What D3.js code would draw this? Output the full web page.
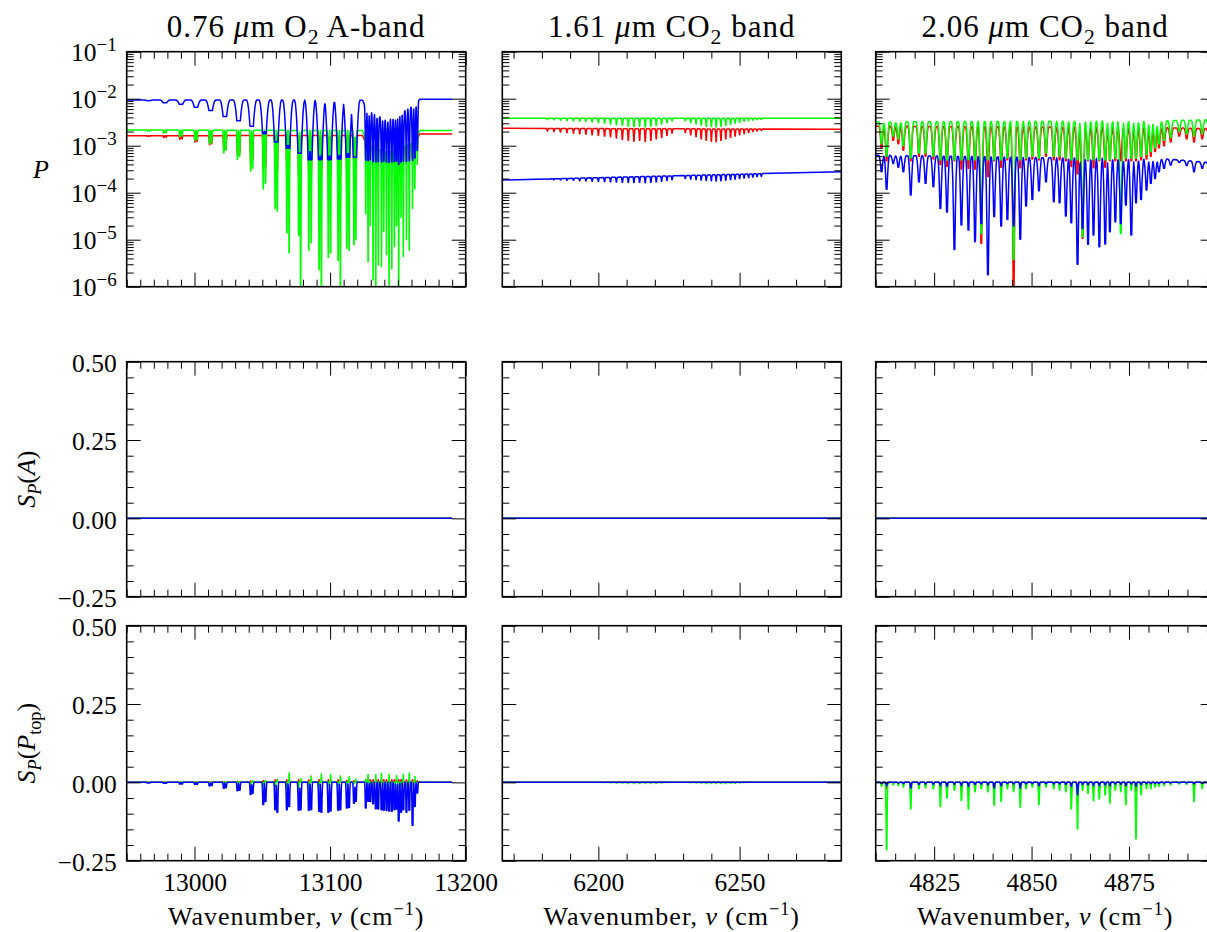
<!DOCTYPE html>
<html>
<head>
<meta charset="utf-8">
<script src="https://cdn.jsdelivr.net/npm/d3@7"></script>
<style>
  html, body { margin: 0; padding: 0; background: #fff; }
  svg { display: block; }
  svg text { font-family: "Liberation Serif", "DejaVu Serif", serif; fill: #000; }
</style>
</head>
<body>
<svg id="chart" width="1207" height="932" font-family="Liberation Serif, DejaVu Serif, serif"></svg>
<script>
// ---------------- axes ----------------
const xDomains = [[12950, 13200], [6166, 6286], [4810, 4897]];
const xMajorTicks = [[13000, 13100, 13200], [6200, 6250], [4825, 4850, 4875]];
const xMinorSteps = [10, 10, 5];
const pTicks = [1e-1, 1e-2, 1e-3, 1e-4, 1e-5, 1e-6];
const pTickExps = ["−1", "−2", "−3", "−4", "−5", "−6"];
const sTicks = [0.5, 0.25, 0, -0.25];
const sMinorStep = 0.05;

// spectral coverage of each band
const coverage = [[12950, 13190], [6166, 6286], [4810, 4897]];

// ---------------- 0.76 um O2 A-band ----------------
// P-branch doublets
const aBandPNu = [12965.3, 12966.9, 12977.4, 12979.0, 12989.2, 12990.8, 13000.3, 13001.9, 13011.1, 13012.7,
  13021.6, 13023.2, 13031.7, 13033.3, 13041.4, 13042.9, 13050.7, 13052.4, 13059.5, 13061.1,
  13068.1, 13069.8, 13076.8, 13078.3, 13084.3, 13086.1, 13091.9, 13093.6, 13098.7, 13100.4,
  13105.9, 13107.6, 13112.3, 13114.0, 13117.6, 13119.0];
const aBandPRed = [1.58e-3, 1.58e-3, 1.5e-3, 1.52e-3, 1.38e-3, 1.4e-3, 1.2e-3, 1.25e-3, 1.05e-3, 1.1e-3,
  8e-4, 8.5e-4, 6.5e-4, 7e-4, 4.5e-4, 5e-4, 3.2e-4, 3.6e-4, 2.6e-4, 2.8e-4,
  2.5e-4, 2.6e-4, 2.5e-4, 2.4e-4, 2.6e-4, 2.5e-4, 2.5e-4, 2.4e-4, 2.6e-4, 2.5e-4,
  2.5e-4, 2.4e-4, 2.7e-4, 2.7e-4, 3e-4, 3.2e-4];
const aBandPGreen = [2.05e-3, 2.05e-3, 1.85e-3, 1.9e-3, 1.55e-3, 1.6e-3, 1.3e-3, 1.35e-3, 1.1e-3, 1.15e-3,
  7.1e-4, 8e-4, 5.1e-4, 6e-4, 2.9e-4, 3.3e-4, 1.2e-4, 1.6e-4, 4.6e-5, 4.1e-5,
  1.4e-5, 5.3e-6, 1.25e-5, 8e-7, 6e-6, 8.6e-6, 2.3e-6, 8e-7, 4.2e-6, 5.2e-6,
  3.6e-6, 8e-7, 6.6e-6, 6e-6, 7.8e-6, 1e-5];
const aBandPBlue = [9.1e-3, 9.1e-3, 8.2e-3, 8.2e-3, 7.6e-3, 7.6e-3, 6.6e-3, 6.6e-3, 5.6e-3, 5.6e-3,
  4.2e-3, 4.2e-3, 3.4e-3, 3.4e-3, 2.6e-3, 2.6e-3, 1.8e-3, 1.8e-3, 1.2e-3, 1.2e-3,
  8.8e-4, 8.8e-4, 6.9e-4, 6.9e-4, 5.0e-4, 5.0e-4, 5.0e-4, 5.0e-4, 5.0e-4, 5.0e-4,
  5.2e-4, 5.2e-4, 5.7e-4, 5.7e-4, 5.7e-4, 5.7e-4];
const aBandPSRed = [0, 0, 0, 0, 0, 0, 0, 0, 0.001, 0.001,
  0.002, 0.002, 0.003, 0.003, 0.004, 0.004, 0.006, 0.006, 0.008, 0.008,
  0.008, 0.008, 0.008, 0.008, 0.008, 0.008, 0.008, 0.008, 0.008, 0.008,
  0.008, 0.008, 0.006, 0.006, 0.005, 0.005];
const aBandPSGreen = [0, 0, 0, 0, 0, 0, 0, 0, -0.002, 0,
  -0.004, 0.002, -0.006, 0.003, -0.008, 0.005, -0.012, 0.006, -0.014, 0.008,
  -0.02, 0.03, -0.018, 0.012, -0.023, 0.02, -0.015, 0.027, -0.01, 0.025,
  -0.012, 0.02, -0.008, 0.018, -0.005, 0.01];
const aBandPSBlue = [-0.002, -0.002, -0.003, -0.003, -0.005, -0.005, -0.006, -0.006, -0.011, -0.01,
  -0.019, -0.017, -0.027, -0.025, -0.039, -0.035, -0.071, -0.061, -0.087, -0.095,
  -0.087, -0.077, -0.089, -0.087, -0.089, -0.087, -0.092, -0.095, -0.095, -0.091,
  -0.089, -0.087, -0.082, -0.08, -0.067, -0.06];
// R-branch
const aBandRNu = [13126.3, 13128.0, 13129.6, 13131.7, 13133.7, 13135.5, 13137.9, 13139.6, 13141.6, 13143.5,
  13145.5, 13147.4, 13149.0, 13150.6, 13152.3, 13154.0, 13156.3, 13158.4, 13160.8, 13162.5, 13164.3];
const aBandRRed = [5.5e-4, 5e-4, 6e-4, 5e-4, 4.5e-4, 5.5e-4, 5e-4, 6e-4, 5e-4, 4.5e-4,
  5e-4, 4.5e-4, 5.5e-4, 2.6e-4, 5e-4, 4.5e-4, 5e-4, 5.5e-4, 6e-4, 7e-4, 9e-4];
const aBandRGreen = [3.6e-5, 3.4e-6, 2e-5, 1.4e-6, 8e-7, 2.9e-6, 2.7e-6, 1.5e-5, 4.8e-6, 8e-7,
  2.4e-6, 7.2e-6, 2e-5, 8e-7, 3e-5, 4.4e-6, 1e-5, 6e-6, 4.6e-5, 1.2e-4, 4e-4];
const aBandRBlue = [5.0e-4, 4.8e-4, 5.0e-4, 4.6e-4, 4.5e-4, 4.6e-4, 4.5e-4, 4.7e-4, 4.5e-4, 4.4e-4,
  4.5e-4, 4.6e-4, 4.7e-4, 4.0e-4, 4.5e-4, 4.7e-4, 4.6e-4, 4.8e-4, 4.9e-4, 5.5e-4, 8.0e-4];
const aBandRSRed = [0.008, 0.008, 0.008, 0.008, 0.008, 0.008, 0.008, 0.008, 0.008, 0.008,
  0.008, 0.008, 0.008, 0.008, 0.008, 0.008, 0.008, 0.008, 0.008, 0.006, 0.005];
const aBandRSGreen = [0.01, 0.025, -0.01, -0.008, 0.025, -0.012, 0.028, -0.01, -0.008, 0.025,
  -0.012, -0.01, 0.021, -0.015, -0.01, 0.025, -0.012, 0.03, -0.01, 0.019, -0.005];
const aBandRSBlue = [-0.082, -0.06, -0.061, -0.068, -0.084, -0.085, -0.087, -0.089, -0.09, -0.091,
  -0.092, -0.087, -0.085, -0.123, -0.095, -0.087, -0.095, -0.089, -0.137, -0.077, -0.034];
// continuum of P
const aBandContNu = [12950, 13124, 13127, 13142, 13163, 13166, 13190];
const aBandContRed = [1.63e-3, 1.65e-3, 1.0e-3, 7e-4, 1.1e-3, 1.78e-3, 1.78e-3];
const aBandContGreen = [2.16e-3, 2.1e-3, 1.1e-3, 7e-4, 1.2e-3, 2.1e-3, 2.1e-3];
const aBandContBlue = [9.4e-3, 9.3e-3, 5.7e-3, 3.4e-3, 7.4e-3, 9.7e-3, 9.7e-3];

// ---------------- 1.61 um CO2 band ----------------
const co2wNu = [6182.0, 6184.3, 6186.6, 6188.9, 6191.2, 6193.4, 6195.6, 6197.8, 6200.0, 6202.2,
  6204.3, 6206.4, 6208.5, 6210.6, 6212.6, 6214.6, 6216.6, 6218.6, 6220.5, 6222.4,
  6224.3, 6226.1, 6230.8, 6232.7, 6234.6, 6236.4, 6238.2, 6240.0, 6241.7, 6243.4,
  6245.1, 6246.8, 6248.4, 6250.0, 6251.6, 6253.2, 6254.7, 6256.2, 6257.7];
const co2wRed = [2.05e-3, 2.0e-3, 1.95e-3, 1.9e-3, 1.85e-3, 1.8e-3, 1.75e-3, 1.7e-3, 1.65e-3, 1.6e-3,
  1.55e-3, 1.45e-3, 1.35e-3, 1.3e-3, 1.25e-3, 1.3e-3, 1.23e-3, 1.3e-3, 1.4e-3, 1.5e-3,
  1.65e-3, 1.85e-3, 1.9e-3, 1.7e-3, 1.55e-3, 1.4e-3, 1.3e-3, 1.25e-3, 1.22e-3, 1.3e-3,
  1.4e-3, 1.5e-3, 1.6e-3, 1.7e-3, 1.8e-3, 1.9e-3, 2.0e-3, 2.05e-3, 2.1e-3];
const co2wGreen = [3.6e-3, 3.55e-3, 3.5e-3, 3.45e-3, 3.4e-3, 3.35e-3, 3.3e-3, 3.2e-3, 3.1e-3, 3.0e-3,
  2.9e-3, 2.8e-3, 2.7e-3, 2.6e-3, 2.55e-3, 2.6e-3, 2.5e-3, 2.6e-3, 2.7e-3, 2.9e-3,
  3.1e-3, 3.4e-3, 3.4e-3, 3.1e-3, 2.9e-3, 2.75e-3, 2.6e-3, 2.55e-3, 2.5e-3, 2.6e-3,
  2.7e-3, 2.85e-3, 3.0e-3, 3.15e-3, 3.3e-3, 3.4e-3, 3.5e-3, 3.6e-3, 3.65e-3];
const co2wBlue = [1.9e-4, 1.88e-4, 1.87e-4, 1.85e-4, 1.83e-4, 1.8e-4, 1.78e-4, 1.76e-4, 1.74e-4, 1.72e-4,
  1.7e-4, 1.68e-4, 1.66e-4, 1.65e-4, 1.64e-4, 1.66e-4, 1.63e-4, 1.66e-4, 1.7e-4, 1.75e-4,
  1.82e-4, 1.9e-4, 2.0e-4, 1.95e-4, 1.9e-4, 1.86e-4, 1.82e-4, 1.8e-4, 1.78e-4, 1.8e-4,
  1.85e-4, 1.9e-4, 1.95e-4, 2.0e-4, 2.05e-4, 2.1e-4, 2.15e-4, 2.2e-4, 2.24e-4];
const co2wSGreen = [0, 0, 0, 0, 0, 0, 0, 0, 0, -0.001,
  -0.002, -0.003, -0.003, -0.004, -0.004, -0.004, -0.004, -0.004, -0.003, -0.002,
  -0.001, 0, 0, -0.001, -0.002, -0.003, -0.004, -0.004, -0.004, -0.004,
  -0.004, -0.003, -0.003, -0.002, -0.001, 0, 0, 0, 0];
const co2wContNu = [6166, 6286];
const co2wContRed = [2.34e-3, 2.24e-3];
const co2wContGreen = [3.82e-3, 3.82e-3];
const co2wContBlue = [1.86e-4, 2.8e-4];

// ---------------- 2.06 um CO2 band ----------------
const co2sNu = [4811.5, 4812.8, 4814.5, 4815.8, 4817.1, 4819.0, 4821.1, 4822.8, 4824.8, 4826.6,
  4828.3, 4830.2, 4832.0, 4833.8, 4835.5, 4837.1, 4838.8, 4840.4, 4842.2, 4843.8,
  4845.4, 4847.1, 4848.6, 4850.2, 4851.9, 4853.7, 4855.7, 4857.2, 4858.8, 4860.2,
  4861.8, 4863.1, 4864.5, 4865.9, 4867.4, 4868.9, 4870.1, 4871.5, 4872.9, 4874.2,
  4875.6, 4876.8, 4878.1, 4879.5, 4880.6, 4881.7, 4882.7, 4884.0, 4885.7, 4887.9,
  4889.8, 4891.7, 4893.8, 4895.5];
const co2sRed = [9e-4, 4.8e-4, 1.3e-3, 1.1e-3, 8e-4, 4.8e-4, 6e-4, 6e-4, 5.2e-4, 4e-4,
  3.6e-4, 4.8e-4, 3.2e-4, 3.3e-4, 3.2e-4, 8.4e-6, 2.2e-4, 4.8e-4, 3.5e-4, 5e-4,
  8e-7, 3.4e-4, 5e-4, 5.2e-4, 5e-4, 6e-4, 5e-4, 5e-4, 4.8e-4, 3.6e-4,
  2.5e-4, 1.07e-5, 4.8e-4, 3.4e-4, 4.8e-4, 3.5e-4, 4.8e-4, 4.8e-4, 4.8e-4, 4.8e-4,
  4.8e-4, 4.8e-4, 5e-4, 5.2e-4, 6e-4, 7.5e-4, 9e-4, 1e-3, 1.2e-3, 1.6e-3,
  1.4e-3, 1.2e-3, 1.4e-3, 1.7e-3];
const co2sGreen = [1.1e-3, 6e-4, 1.6e-3, 1.4e-3, 1.0e-3, 5.5e-4, 7e-4, 7e-4, 6e-4, 5e-4,
  5e-4, 5e-4, 5e-4, 5e-4, 5e-4, 1.36e-5, 5e-4, 5e-4, 5e-4, 5.5e-4,
  3.8e-6, 5e-4, 5.5e-4, 6e-4, 5.5e-4, 7e-4, 6e-4, 6e-4, 5.5e-4, 5e-4,
  5e-4, 1.16e-5, 5e-4, 5e-4, 5e-4, 5e-4, 5e-4, 5.5e-4, 1.36e-5, 5.5e-4,
  5.5e-4, 5.5e-4, 6e-4, 6.5e-4, 7.5e-4, 9e-4, 1.1e-3, 1.3e-3, 1.5e-3, 2.0e-3,
  1.8e-3, 1.6e-3, 1.8e-3, 2.2e-3];
const co2sBlue = [2.8e-4, 1.18e-4, 4.2e-4, 3.5e-4, 2.8e-4, 8.9e-5, 1.7e-4, 1.58e-4, 1.34e-4, 4.6e-5,
  3.9e-5, 6.2e-6, 2.05e-5, 1.6e-5, 9.1e-6, 2.2e-5, 1.8e-6, 3.1e-5, 1.95e-5, 2.7e-5,
  1.95e-5, 1.02e-5, 5.2e-5, 7.2e-5, 1.1e-4, 1.7e-4, 6.4e-5, 6.1e-5, 3.2e-5, 2.3e-5,
  3.0e-6, 1.74e-5, 8.0e-6, 1.26e-5, 7.1e-6, 8.1e-6, 1.48e-5, 2.4e-5, 2.2e-5, 5.5e-5,
  1.26e-5, 6.1e-5, 7.2e-5, 1.14e-4, 1.58e-4, 2.0e-4, 2.8e-4, 3.3e-4, 3.9e-4, 4.4e-4,
  3.8e-4, 2.8e-4, 3.3e-4, 3.6e-4];
const co2sSRed = [-0.008, -0.02, -0.004, -0.005, -0.008, -0.03, -0.01, -0.01, -0.01, -0.02,
  -0.02, -0.012, -0.02, -0.02, -0.015, -0.012, -0.015, -0.02, -0.018, -0.01,
  -0.015, -0.02, -0.01, -0.008, -0.02, -0.008, -0.01, -0.01, -0.015, -0.025,
  -0.03, -0.012, -0.015, -0.018, -0.018, -0.015, -0.018, -0.012, -0.012, -0.02,
  -0.01, -0.03, -0.012, -0.008, -0.008, -0.006, -0.005, -0.004, -0.003, -0.002,
  -0.002, -0.01, -0.006, -0.004];
const co2sSGreen = [-0.012, -0.215, -0.008, -0.01, -0.015, -0.085, -0.02, -0.018, -0.02, -0.077,
  -0.05, -0.025, -0.058, -0.085, -0.03, -0.02, -0.03, -0.073, -0.061, -0.02,
  -0.03, -0.079, -0.02, -0.015, -0.071, -0.015, -0.02, -0.025, -0.03, -0.085,
  -0.149, -0.025, -0.035, -0.058, -0.053, -0.04, -0.066, -0.025, -0.03, -0.071,
  -0.025, -0.18, -0.039, -0.02, -0.02, -0.015, -0.012, -0.01, -0.008, -0.005,
  -0.006, -0.061, -0.02, -0.01];
const co2sSBlue = [-0.003, -0.01, 0, -0.002, -0.004, -0.018, -0.006, -0.005, -0.006, -0.01,
  -0.012, -0.006, -0.01, -0.012, -0.006, -0.005, -0.008, -0.018, -0.01, -0.004,
  -0.005, -0.018, -0.005, -0.004, -0.01, -0.004, -0.005, -0.005, -0.006, -0.012,
  -0.039, -0.006, -0.008, -0.01, -0.01, -0.008, -0.01, -0.005, -0.006, -0.01,
  -0.005, -0.012, -0.006, -0.004, -0.004, -0.003, -0.003, -0.002, -0.002, -0.001,
  -0.001, -0.004, -0.003, -0.002];
const co2sContNu = [4810, 4850, 4885, 4897];
const co2sContRed = [2.6e-3, 2.5e-3, 2.4e-3, 2.3e-3];
const co2sContGreen = [3.2e-3, 3.3e-3, 3.4e-3, 3.6e-3];
const co2sContBlue = [6.3e-4, 5.6e-4, 5.2e-4, 4.3e-4];

// surface-albedo sensitivity, one value per band
const albedoSensRed = [0, 0, 0];
const albedoSensGreen = [0, 0, 0];
const albedoSensBlue = [0, 0, 0];

// ---------------- text ----------------
const bandTitles = [
  [["0.76 ", ""], ["μ", "i"], ["m O", ""], ["2", "sub"], [" A-band", ""]],
  [["1.61 ", ""], ["μ", "i"], ["m CO", ""], ["2", "sub"], [" band", ""]],
  [["2.06 ", ""], ["μ", "i"], ["m CO", ""], ["2", "sub"], [" band", ""]]
];
const xLabelParts = [["Wavenumber, ", ""], ["ν", "i"], [" (cm", ""], ["−1", "sup"], [")", ""]];
const rowLabels = [
  [["P", "i"]],
  [["S", "i"], ["P", "isub"], ["(", ""], ["A", "i"], [")", ""]],
  [["S", "i"], ["P", "isub"], ["(", ""], ["P", "i"], ["top", "sub"], [")", ""]]
];

// ---------------- layout & style ----------------
const fontStack = "Liberation Serif, DejaVu Serif, serif";
const colLeft = [126.7, 502.3, 875.7], panelW = 339;
const rowTop = [51.7, 361.7, 625.7], panelH = 235;
const colorOf = { red: "#ff0000", green: "#00ff00", blue: "#0000ff" };
const order = ["red", "green", "blue"];
const tickFont = 25.5;

const bands = [
  {
    contNu: aBandContNu,
    cont: { red: aBandContRed, green: aBandContGreen, blue: aBandContBlue },
    groups: [
      { nu: aBandPNu,
        P: { red: aBandPRed, green: aBandPGreen, blue: aBandPBlue },
        S: { red: aBandPSRed, green: aBandPSGreen, blue: aBandPSBlue },
        profP: { red: { top: 0.8, bot: 0.1 }, green: { top: 0.8, bot: 0.1 }, blue: { top: 3.0, bot: 0.5 } },
        profS: { red: { top: 0.5, bot: 0.05 }, green: { top: 0.5, bot: 0.05 }, blue: { top: 1.0, bot: 0.3 } } },
      { nu: aBandRNu,
        P: { red: aBandRRed, green: aBandRGreen, blue: aBandRBlue },
        S: { red: aBandRSRed, green: aBandRSGreen, blue: aBandRSBlue },
        profP: { red: { top: 0.55, bot: 0.08 }, green: { top: 0.5, bot: 0.05 }, blue: { top: 1.05, bot: 0.15 } },
        profS: { red: { top: 0.4, bot: 0.05 }, green: { top: 0.4, bot: 0.05 }, blue: { top: 0.9, bot: 0.3 } } }
    ]
  },
  {
    contNu: co2wContNu,
    cont: { red: co2wContRed, green: co2wContGreen, blue: co2wContBlue },
    groups: [
      { nu: co2wNu,
        P: { red: co2wRed, green: co2wGreen, blue: co2wBlue },
        S: { red: null, green: co2wSGreen, blue: null },
        profP: { red: { top: 0.42, bot: 0.05 }, green: { top: 0.42, bot: 0.05 }, blue: { top: 0.42, bot: 0.05 } },
        profS: { red: { top: 0.4, bot: 0.05 }, green: { top: 0.4, bot: 0.05 }, blue: { top: 0.4, bot: 0.05 } } }
    ]
  },
  {
    contNu: co2sContNu,
    cont: { red: co2sContRed, green: co2sContGreen, blue: co2sContBlue },
    groups: [
      { nu: co2sNu,
        P: { red: co2sRed, green: co2sGreen, blue: co2sBlue },
        S: { red: co2sSRed, green: co2sSGreen, blue: co2sSBlue },
        profP: { red: { top: 0.75, bot: 0.1 }, green: { top: 0.75, bot: 0.1 }, blue: { top: 0.75, bot: 0.1 } },
        profS: { red: { top: 0.35, bot: 0.05 }, green: { top: 0.35, bot: 0.05 }, blue: { top: 0.35, bot: 0.05 } } }
    ]
  }
];
const albedoSens = { red: albedoSensRed, green: albedoSensGreen, blue: albedoSensBlue };

// ---------------- spectrum construction ----------------
// fraction of a line's full depth reached at distance d from its centre
function lineShape(d, pr) {
  if (d >= pr.top) return 0;
  if (d <= pr.bot) return 1;
  const t = (pr.top - d) / (pr.top - pr.bot);
  return t * t;
}

function seriesPoints(bi, row, color) {
  const band = bands[bi];
  const logMode = row === 0;
  const f = logMode ? Math.log10 : (v => v);
  const finv = logMode ? (v => Math.pow(10, v)) : (v => v);
  const [x0, x1] = coverage[bi];
  let base;
  if (row === 0) {
    base = d3.scaleLinear().domain(band.contNu).range(band.cont[color].map(f)).clamp(true);
  } else {
    const b = row === 1 ? albedoSens[color][bi] : 0;
    base = () => b;
  }
  const lines = [];
  if (row !== 1) {
    band.groups.forEach(g => {
      const vals = row === 0 ? g.P[color] : g.S[color];
      if (!vals) return;
      const pr = (row === 0 ? g.profP : g.profS)[color];
      g.nu.forEach((n, i) => lines.push({ n, dev: f(vals[i]) - base(n), pr }));
    });
  }
  const xs = [x0, x1];
  if (row === 0) xs.push(...band.contNu);
  const fr = [0, 0.25, 0.5, 0.75, 1];
  lines.forEach(l => {
    xs.push(l.n);
    fr.forEach(k => {
      const d = l.pr.bot + k * (l.pr.top - l.pr.bot);
      xs.push(l.n - d, l.n + d);
    });
  });
  const sorted = Array.from(new Set(xs)).filter(x => x >= x0 && x <= x1).sort((a, b) => a - b);
  return sorted.map(x => {
    let dev = 0;
    for (const l of lines) {
      const s = lineShape(Math.abs(x - l.n), l.pr);
      if (s > 0) {
        const v = l.dev * s;
        if (Math.abs(v) > Math.abs(dev)) dev = v;
      }
    }
    return [x, finv(base(x) + dev)];
  });
}

// ---------------- drawing ----------------
const svg = d3.select("#chart");

// mixed roman / italic / sub / superscript text
function richText(sel, parts, size) {
  let shift = 0;
  parts.forEach(([str, kind]) => {
    let target = 0, fs = size;
    if (kind === "sub" || kind === "isub") { target = size * 0.22; fs = size * 0.7; }
    if (kind === "sup") { target = -size * 0.4; fs = size * 0.7; }
    const t = sel.append("tspan").attr("font-size", fs).text(str);
    if (target !== shift) t.attr("dy", target - shift);
    shift = target;
    if (kind === "i" || kind === "isub") t.attr("font-style", "italic");
  });
}

function styleAxis(g) {
  g.select(".domain").remove();
  g.selectAll(".tick line").attr("stroke", "#000").attr("stroke-width", 1);
  g.attr("font-family", fontStack).attr("font-size", tickFont);
  g.selectAll("text").attr("fill", "#000");
}

for (let c = 0; c < 3; c++) {
  const left = colLeft[c];
  const x = d3.scaleLinear().domain(xDomains[c]).range([left, left + panelW]);
  const majors = xMajorTicks[c];
  const step = xMinorSteps[c];
  const minors = d3.range(Math.ceil(xDomains[c][0] / step) * step, xDomains[c][1] + 1e-9, step)
    .filter(v => !majors.some(m => Math.abs(m - v) < 1e-6));

  for (let r = 0; r < 3; r++) {
    const top = rowTop[r];
    const y = r === 0
      ? d3.scaleLog().domain([1e-6, 1e-1]).range([top + panelH, top])
      : d3.scaleLinear().domain([-0.25, 0.5]).range([top + panelH, top]);

    const clipId = `clip-${r}-${c}`;
    svg.append("clipPath").attr("id", clipId)
      .append("rect").attr("x", left).attr("y", top).attr("width", panelW).attr("height", panelH);

    const plot = svg.append("g").attr("clip-path", `url(#${clipId})`);
    const line = d3.line().x(d => x(d[0])).y(d => y(d[1]));
    order.forEach(color => {
      plot.append("path")
        .datum(seriesPoints(c, r, color))
        .attr("d", line)
        .attr("fill", "none")
        .attr("stroke", colorOf[color])
        .attr("stroke-width", 1.5)
        .attr("stroke-linejoin", "round");
    });

    // x ticks, bottom and top
    const bottomMajor = svg.append("g").attr("transform", `translate(0,${top + panelH})`)
      .call(d3.axisBottom(x).tickValues(majors).tickSize(-14).tickSizeOuter(0).tickPadding(12)
        .tickFormat(r === 2 ? d3.format("d") : () => ""));
    styleAxis(bottomMajor);
    if (r !== 2) bottomMajor.selectAll("text").remove();
    styleAxis(svg.append("g").attr("transform", `translate(0,${top + panelH})`)
      .call(d3.axisBottom(x).tickValues(minors).tickSize(-7).tickSizeOuter(0).tickFormat(() => "")));
    styleAxis(svg.append("g").attr("transform", `translate(0,${top})`)
      .call(d3.axisTop(x).tickValues(majors).tickSize(-14).tickSizeOuter(0).tickFormat(() => "")));
    styleAxis(svg.append("g").attr("transform", `translate(0,${top})`)
      .call(d3.axisTop(x).tickValues(minors).tickSize(-7).tickSizeOuter(0).tickFormat(() => "")));

    // y ticks, left and right
    let yMajors, yMinors;
    if (r === 0) {
      yMajors = pTicks;
      yMinors = y.ticks().filter(v => Math.abs(Math.log10(v) - Math.round(Math.log10(v))) > 1e-9);
    } else {
      yMajors = sTicks;
      yMinors = d3.range(-0.25, 0.5 + 1e-9, sMinorStep)
        .filter(v => !sTicks.some(m => Math.abs(m - v) < 1e-6));
    }
    const leftMajor = svg.append("g").attr("transform", `translate(${left},0)`)
      .call(d3.axisLeft(y).tickValues(yMajors).tickSize(-14).tickSizeOuter(0).tickPadding(10)
        .tickFormat(c === 0 && r > 0 ? d3.format(".2f") : () => ""));
    styleAxis(leftMajor);
    if (c === 0 && r > 0) leftMajor.selectAll("text").attr("dy", "0.38em");
    else leftMajor.selectAll("text").remove();
    const others = [
      d3.axisLeft(y).tickValues(yMinors).tickSize(-7),
      d3.axisRight(y).tickValues(yMajors).tickSize(-14),
      d3.axisRight(y).tickValues(yMinors).tickSize(-7)
    ];
    others.forEach((ax, k) => {
      const g = svg.append("g").attr("transform", `translate(${k === 0 ? left : left + panelW},0)`)
        .call(ax.tickSizeOuter(0).tickFormat(() => ""));
      styleAxis(g);
      g.selectAll("text").remove();
    });
    svg.selectAll("g.tick text").filter(function () { return this.textContent === ""; }).remove();

    // power-of-ten labels for P
    if (r === 0 && c === 0) {
      pTicks.forEach((v, i) => {
        const t = svg.append("text")
          .attr("x", left - 10).attr("y", y(v) + 9)
          .attr("text-anchor", "end").attr("font-size", tickFont);
        t.append("tspan").text("10");
        t.append("tspan").attr("font-size", 19).attr("dy", -10).text(pTickExps[i]);
      });
    }

    // frame
    svg.append("rect")
      .attr("x", left).attr("y", top).attr("width", panelW).attr("height", panelH)
      .attr("fill", "none").attr("stroke", "#000").attr("stroke-width", 1.6);
  }

  // band title
  const title = svg.append("text")
    .attr("x", left + panelW / 2).attr("y", 37)
    .attr("text-anchor", "middle").attr("font-size", 31).attr("letter-spacing", 1);
  richText(title, bandTitles[c], 31);

  // x label
  const xl = svg.append("text")
    .attr("x", left + panelW / 2).attr("y", 925)
    .attr("text-anchor", "middle").attr("font-size", 26).attr("letter-spacing", 1);
  richText(xl, xLabelParts, 26);
}

// row labels
const pLab = svg.append("text").attr("x", 41).attr("y", 178)
  .attr("text-anchor", "middle").attr("font-size", 26);
richText(pLab, rowLabels[0], 26);
[1, 2].forEach(r => {
  const cy = rowTop[r] + panelH / 2;
  const t = svg.append("text")
    .attr("transform", `translate(35,${cy}) rotate(-90)`)
    .attr("text-anchor", "middle").attr("font-size", 26);
  richText(t, rowLabels[r], 26);
});
</script>
</body>
</html>
